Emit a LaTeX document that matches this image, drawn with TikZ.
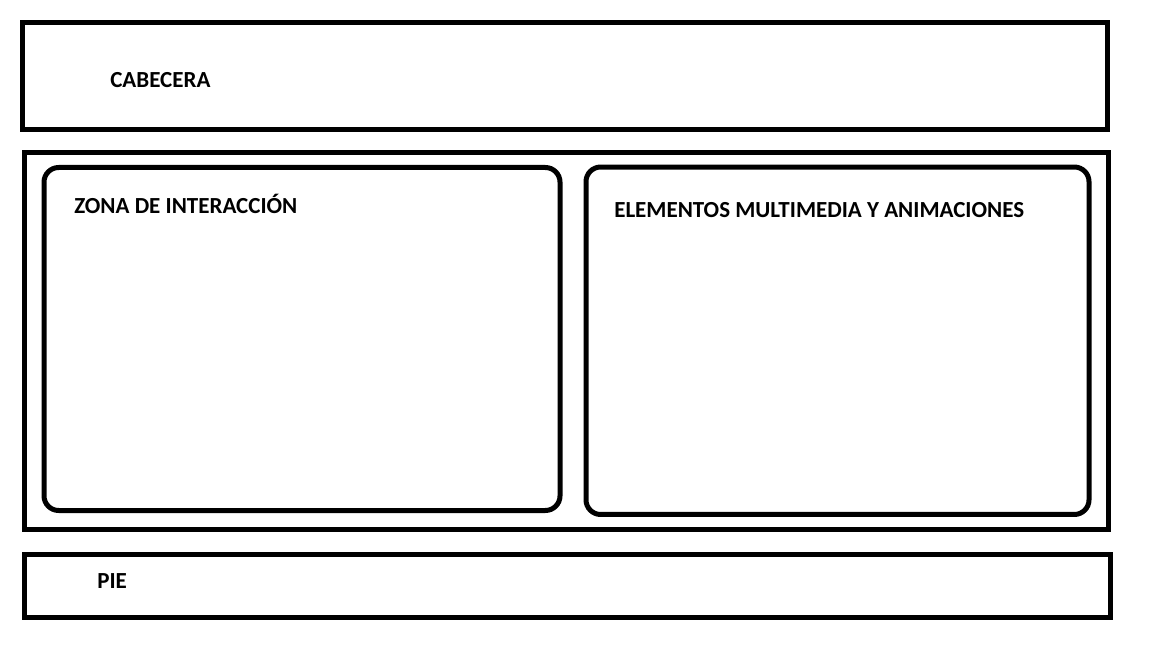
\documentclass[tikz,border=0pt]{standalone}
\usepackage{fontspec}
\setmainfont{Carlito}
\begin{document}
\begin{tikzpicture}[x=0.75pt,y=-0.75pt,
  box/.style={draw=black,line width=3.75pt,fill=none,inner sep=0pt,outer sep=0pt},
  rbox/.style={box,rounded corners=11pt},
  lbl/.style={anchor=base west,inner sep=0pt,font=\fontsize{17.25pt}{20pt}\selectfont\bfseries}]
\useasboundingbox (0,0) rectangle (1152,648);
\node[box,minimum width=813.4pt,minimum height=80.6pt] (cab) at (564.75,76.25) {};
\node[box,minimum width=813pt,minimum height=283.1pt] (main) at (566.5,341.25) {};
\node[rbox,minimum width=387pt,minimum height=257.25pt] (zona) at (302,339) {};
\node[rbox,minimum width=377.25pt,minimum height=260.6pt] (multi) at (837.5,340.75) {};
\node[box,minimum width=814.5pt,minimum height=47.25pt] (pie) at (567.5,586) {};
\node[lbl] (tcab) at (110,88) {CABECERA};
\node[lbl] (tzona) at (74,214) {ZONA DE INTERACCIÓN};
\node[lbl] (tmulti) at (614,218) {ELEMENTOS MULTIMEDIA Y ANIMACIONES};
\node[lbl] (tpie) at (97,588) {PIE};
\end{tikzpicture}
\end{document}
